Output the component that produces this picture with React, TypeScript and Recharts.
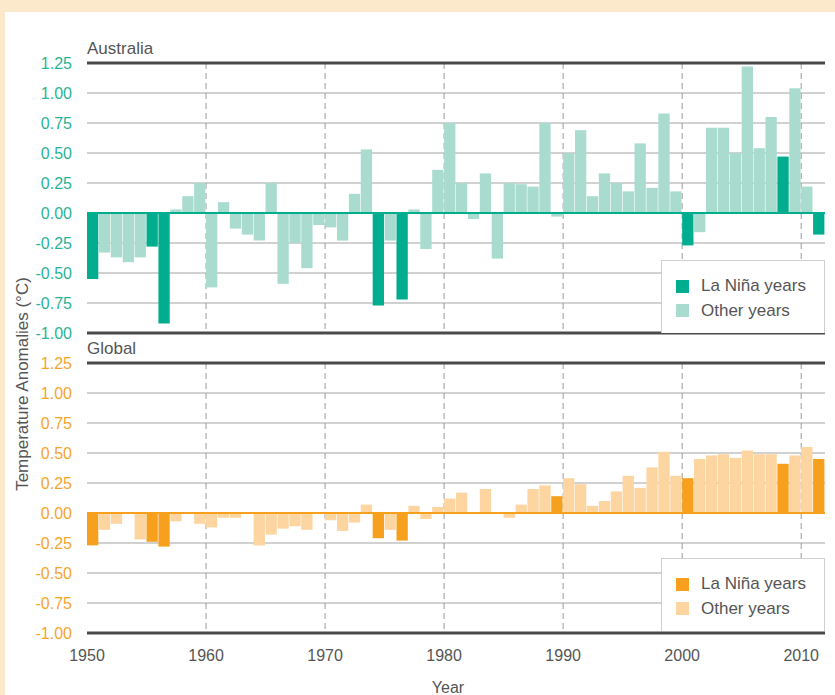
import React from 'react';
import {
  BarChart,
  Bar,
  XAxis,
  YAxis,
  CartesianGrid,
  ReferenceLine,
  Legend,
} from 'recharts';

// Years 1950–2011, one bar per year
const years = [
  1950, 1951, 1952, 1953, 1954, 1955, 1956, 1957, 1958, 1959,
  1960, 1961, 1962, 1963, 1964, 1965, 1966, 1967, 1968, 1969,
  1970, 1971, 1972, 1973, 1974, 1975, 1976, 1977, 1978, 1979,
  1980, 1981, 1982, 1983, 1984, 1985, 1986, 1987, 1988, 1989,
  1990, 1991, 1992, 1993, 1994, 1995, 1996, 1997, 1998, 1999,
  2000, 2001, 2002, 2003, 2004, 2005, 2006, 2007, 2008, 2009,
  2010, 2011,
];

// Temperature anomalies (°C)
const australia = [
  -0.55, -0.33, -0.37, -0.41, -0.37, -0.28, -0.92, 0.03, 0.14, 0.25,
  -0.62, 0.09, -0.13, -0.18, -0.23, 0.25, -0.59, -0.25, -0.46, -0.1,
  -0.12, -0.23, 0.16, 0.53, -0.77, -0.23, -0.72, 0.03, -0.3, 0.36,
  0.75, 0.25, -0.05, 0.33, -0.38, 0.25, 0.24, 0.22, 0.75, -0.03,
  0.5, 0.69, 0.14, 0.33, 0.25, 0.18, 0.58, 0.21, 0.83, 0.18,
  -0.27, -0.16, 0.71, 0.71, 0.5, 1.22, 0.54, 0.8, 0.47, 1.04,
  0.22, -0.18,
];

const global = [
  -0.27, -0.14, -0.09, 0, -0.22, -0.24, -0.28, -0.07, 0, -0.09,
  -0.12, -0.04, -0.04, 0, -0.27, -0.18, -0.13, -0.11, -0.14, 0,
  -0.06, -0.15, -0.08, 0.07, -0.21, -0.14, -0.23, 0.06, -0.05, 0.05,
  0.12, 0.17, 0, 0.2, 0, -0.04, 0.07, 0.2, 0.23, 0.14,
  0.29, 0.24, 0.06, 0.1, 0.18, 0.31, 0.21, 0.38, 0.51, 0.31,
  0.29, 0.45, 0.48, 0.49, 0.46, 0.52, 0.49, 0.49, 0.41, 0.48,
  0.55, 0.45,
];

// La Niña years as highlighted in each panel
const ausLaNina = [1950, 1955, 1956, 1974, 1976, 2000, 2008, 2011];
const globalLaNina = [1950, 1955, 1956, 1974, 1976, 1989, 2000, 2008, 2011];

const yTicks = [1.25, 1, 0.75, 0.5, 0.25, 0, -0.25, -0.5, -0.75, -1];
const decadeTicks = [1950, 1960, 1970, 1980, 1990, 2000, 2010];
const decadeLines = [1960, 1970, 1980, 1990, 2000, 2010];

const FONT = '"Liberation Sans", Arial, sans-serif';
const TEXT = '#555';

const buildRows = (values: number[], laNina: number[]) =>
  years.map((year, i) => {
    const isLN = laNina.includes(year);
    return {
      year,
      x: year + 0.5,
      laNina: isLN ? values[i] : null,
      other: isLN ? null : values[i],
    };
  });

const LegendBox = ({ payload }: any) => (
  <div
    style={{
      width: 164,
      height: 73,
      boxSizing: 'border-box',
      border: '1.5px solid #cfcfcf',
      borderBottom: 'none',
      background: '#fff',
      padding: '13px 0 0 14px',
      fontFamily: FONT,
    }}
  >
    {(payload || []).map((entry: any) => (
      <div
        key={entry.value}
        style={{ display: 'flex', alignItems: 'center', height: 24.5 }}
      >
        <span
          style={{
            display: 'inline-block',
            width: 13,
            height: 13,
            background: entry.color,
            marginRight: 12,
          }}
        />
        <span style={{ fontSize: 17, color: TEXT }}>{entry.value}</span>
      </div>
    ))}
  </div>
);

interface PanelProps {
  rows: any[];
  dark: string;
  light: string;
  tickColor: string;
  height: number;
  showX: boolean;
  legendTop: number;
}

function Panel({ rows, dark, light, tickColor, height, showX, legendTop }: PanelProps) {
  return (
    <BarChart
      width={835}
      height={height}
      data={rows}
      margin={{ top: 23, right: 10, bottom: showX ? 0 : 27, left: 0 }}
    >
      <CartesianGrid vertical={false} stroke="#a3a3a3" strokeWidth={1} />
      <CartesianGrid
        horizontal={false}
        verticalValues={decadeLines}
        stroke="#9a9a9a"
        strokeDasharray="6 4"
      />
      <XAxis
        type="number"
        dataKey="x"
        domain={[1950, 2012]}
        ticks={decadeTicks}
        hide={!showX}
        height={62}
        axisLine={false}
        tickLine={false}
        tickSize={0}
        tickMargin={17}
        tick={{ fill: TEXT, fontSize: 16, fontFamily: FONT }}
        label={{
          value: 'Year',
          position: 'insideBottom',
          offset: 2,
          dx: -8,
          fill: TEXT,
          fontSize: 16,
          fontFamily: FONT,
        }}
      />
      <YAxis
        type="number"
        domain={[-1, 1.25]}
        ticks={yTicks}
        width={87}
        axisLine={false}
        tickLine={false}
        tickSize={0}
        tickMargin={15}
        tickFormatter={(v: number) => v.toFixed(2)}
        tick={{ fill: tickColor, fontSize: 16, fontFamily: FONT }}
      />
      <Legend
        layout="vertical"
        align="center"
        verticalAlign="middle"
        content={<LegendBox />}
        wrapperStyle={{ left: 661, top: legendTop, width: 164, height: 73 }}
      />
      <Bar
        dataKey="laNina"
        name="La Niña years"
        stackId="s"
        fill={dark}
        barSize={11.3}
        isAnimationActive={false}
      />
      <Bar
        dataKey="other"
        name="Other years"
        stackId="s"
        fill={light}
        barSize={11.3}
        isAnimationActive={false}
      />
      <ReferenceLine y={0} stroke={dark} strokeWidth={2} />
      <ReferenceLine y={1.25} stroke="#4a4a4a" strokeWidth={3} />
      <ReferenceLine y={-1} stroke="#4a4a4a" strokeWidth={3} />
    </BarChart>
  );
}

export default function App() {
  const ausRows = buildRows(australia, ausLaNina);
  const globalRows = buildRows(global, globalLaNina);

  return (
    <div
      style={{
        position: 'absolute',
        left: 0,
        top: 0,
        width: 835,
        height: 695,
        background: '#FCE9CB',
        overflow: 'hidden',
        fontFamily: FONT,
      }}
    >
      <div
        style={{
          position: 'absolute',
          left: 5,
          top: 12,
          width: 830,
          height: 683,
          background: '#fff',
        }}
      />

      <div style={{ position: 'absolute', left: 87, top: 40, fontSize: 17, lineHeight: '17px', color: TEXT }}>
        Australia
      </div>
      <div style={{ position: 'absolute', left: 87, top: 340, fontSize: 17, lineHeight: '17px', color: TEXT }}>
        Global
      </div>

      <div
        style={{
          position: 'absolute',
          left: 23 - 140,
          top: 384 - 10,
          width: 280,
          height: 20,
          lineHeight: '20px',
          fontSize: 17,
          color: TEXT,
          textAlign: 'center',
          transform: 'rotate(-90deg)',
        }}
      >
        Temperature Anomalies (°C)
      </div>

      <div style={{ position: 'absolute', left: 0, top: 40 }}>
        <Panel
          rows={ausRows}
          dark="#00AD8E"
          light="#A9DCCF"
          tickColor="#2AB497"
          height={320}
          showX={false}
          legendTop={220}
        />
      </div>

      <div style={{ position: 'absolute', left: 0, top: 340 }}>
        <Panel
          rows={globalRows}
          dark="#F6A01E"
          light="#FDD5A0"
          tickColor="#F7A42A"
          height={355}
          showX={true}
          legendTop={218}
        />
      </div>
    </div>
  );
}
